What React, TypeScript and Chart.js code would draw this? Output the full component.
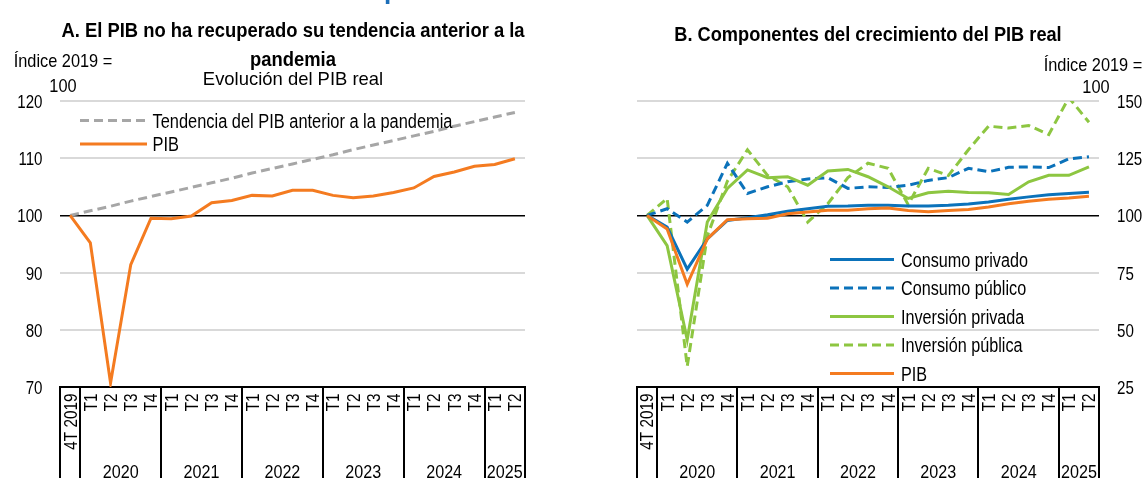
import React, { useEffect, useRef } from 'react';
import { Chart, registerables } from 'chart.js';

Chart.register(...registerables);

const FONT = "'Liberation Sans', Arial, sans-serif";

// ---- Data ----
const quarterLabels = [
  '4T 2019',
  'T1', 'T2', 'T3', 'T4',
  'T1', 'T2', 'T3', 'T4',
  'T1', 'T2', 'T3', 'T4',
  'T1', 'T2', 'T3', 'T4',
  'T1', 'T2', 'T3', 'T4',
  'T1', 'T2',
];
const quarterYears = [
  '',
  '2020', '2020', '2020', '2020',
  '2021', '2021', '2021', '2021',
  '2022', '2022', '2022', '2022',
  '2023', '2023', '2023', '2023',
  '2024', '2024', '2024', '2024',
  '2025', '2025',
];

// Panel A
const trendA = [100, 100.8, 101.6, 102.5, 103.3, 104.1, 104.9, 105.7, 106.5, 107.4, 108.2, 109.0, 109.8, 110.6, 111.5, 112.3, 113.1, 113.9, 114.7, 115.6, 116.4, 117.2, 118.0];
const pibA = [100, 95.2, 70.7, 91.4, 99.5, 99.4, 99.9, 102.2, 102.6, 103.5, 103.4, 104.4, 104.4, 103.5, 103.1, 103.4, 104.0, 104.8, 106.8, 107.6, 108.6, 108.9, 109.9];
const ticksA = [70, 120, 10];

// Panel B
const consumoPrivado = [100, 94.9, 76.5, 89.7, 97.8, 99.0, 100.3, 101.8, 102.9, 104.0, 104.1, 104.4, 104.4, 104.1, 104.1, 104.4, 105.0, 105.9, 107.1, 108.1, 109.0, 109.6, 110.1];
const consumoPublico = [100, 102.9, 97.1, 104.4, 122.8, 109.6, 112.5, 114.7, 115.9, 116.5, 111.8, 112.5, 112.2, 113.2, 115.3, 116.5, 120.6, 119.1, 121.0, 121.2, 120.9, 124.7, 125.6];
const inversionPrivada = [100, 86.8, 45.6, 97.1, 111.8, 119.9, 116.5, 116.9, 113.2, 119.4, 120.1, 116.9, 112.5, 107.4, 109.9, 110.6, 110.0, 109.9, 109.1, 114.7, 117.5, 117.5, 121.2];
const inversionPublica = [100, 107.4, 34.0, 91.0, 115.0, 128.7, 117.5, 112.5, 97.1, 105.1, 116.5, 122.8, 120.6, 104.7, 120.6, 117.4, 128.7, 139.0, 138.2, 139.3, 135.3, 151.5, 140.7];
const pibB = [100, 94.1, 69.9, 89.7, 98.1, 98.5, 98.8, 100.7, 101.5, 102.2, 102.2, 102.9, 103.2, 102.1, 101.6, 102.1, 102.6, 103.7, 105.1, 106.2, 107.1, 107.6, 108.4];
const ticksB = [25, 150, 25];

const COLORS = {
  blue: '#0B72BA',
  green: '#8DC641',
  orange: '#F47B20',
  grey: '#A6A6A6',
  grid: '#D9D9D9',
};

// Draw text with horizontal condensing (narrow look)
function drawText(ctx: any, text: string, x: number, y: number, o: any) {
  ctx.save();
  ctx.font = `${o.bold ? 'bold ' : ''}${o.size}px ${FONT}`;
  ctx.fillStyle = o.color || '#000';
  ctx.textAlign = o.align || 'center';
  ctx.textBaseline = o.baseline || 'alphabetic';
  ctx.translate(x, y);
  if (o.rotate) ctx.rotate(o.rotate);
  ctx.scale(o.sx || 1, 1);
  ctx.fillText(text, 0, o.dy || 0);
  ctx.restore();
}

// ---- Plugins ----
const textPlugin = {
  id: 'staticTexts',
  afterDraw(chart: any, _args: any, opts: any) {
    (opts.items || []).forEach((it: any) => drawText(chart.ctx, it.text, it.x, it.y, it));
  },
};

const legendPlugin = {
  id: 'inlineLegend',
  afterDatasetsDraw(chart: any, _args: any, opts: any) {
    const ctx = chart.ctx;
    chart.data.datasets.forEach((ds: any, row: number) => {
      const y = opts.y + row * opts.spacing;
      ctx.save();
      ctx.strokeStyle = ds.borderColor;
      ctx.lineWidth = ds.borderWidth;
      ctx.setLineDash(ds.borderDash || []);
      ctx.lineCap = 'butt';
      ctx.beginPath();
      ctx.moveTo(opts.x, y);
      ctx.lineTo(opts.x + opts.sampleWidth, y);
      ctx.stroke();
      ctx.restore();
      drawText(ctx, ds.label, opts.x + opts.sampleWidth + opts.gap, y + opts.size * 0.358, {
        size: opts.size, sx: opts.sx, align: 'left',
      });
    });
  },
};

const tickLabelPlugin = {
  id: 'tickLabels',
  afterDraw(chart: any, _args: any, opts: any) {
    const ctx = chart.ctx;
    const xs = chart.scales.x;
    const ys = chart.scales.y;
    const { left, right, bottom } = chart.chartArea;
    // y tick labels
    ys.ticks.forEach((t: any) => {
      const py = ys.getPixelForValue(t.value);
      if (opts.yPos === 'left') {
        drawText(ctx, String(t.value), left - opts.yPad, py + opts.yDy, { size: opts.ySize, sx: opts.ySx, align: 'right' });
      } else {
        drawText(ctx, String(t.value), right + opts.yPad, py + opts.yDy, { size: opts.ySize, sx: opts.ySx, align: 'left' });
      }
    });
    // x tick labels (rotated, reading bottom to top)
    chart.data.labels.forEach((lab: string, i: number) => {
      const px = xs.getPixelForValue(i);
      drawText(ctx, lab, px, bottom + opts.xPad, {
        size: opts.xSize, sx: opts.xSx, align: 'right', rotate: -Math.PI / 2, dy: opts.xSize * 0.358,
      });
    });
  },
};

const yearAxisPlugin = {
  id: 'yearAxis',
  afterDraw(chart: any, _args: any, opts: any) {
    const xs = chart.scales.x;
    const { left, right, bottom } = chart.chartArea;
    const ctx = chart.ctx;
    const H = chart.height;
    const years: string[] = opts.years;
    const bounds: number[] = [left];
    const groups: any[] = [];
    let start = 0;
    for (let i = 1; i <= years.length; i++) {
      if (i === years.length || years[i] !== years[i - 1]) {
        const endPx = i === years.length ? right : (xs.getPixelForValue(i - 1) + xs.getPixelForValue(i)) / 2;
        groups.push({ label: years[start], from: bounds[bounds.length - 1], to: endPx });
        bounds.push(endPx);
        start = i;
      }
    }
    ctx.save();
    ctx.strokeStyle = '#000';
    ctx.lineWidth = 2;
    bounds.forEach((b) => {
      const bx = Math.round(b);
      ctx.beginPath();
      ctx.moveTo(bx, bottom);
      ctx.lineTo(bx, H);
      ctx.stroke();
    });
    ctx.restore();
    groups.forEach((g) => {
      if (g.label) drawText(ctx, g.label, (g.from + g.to) / 2, opts.labelY, { size: opts.size, sx: opts.sx });
    });
  },
};

function makeScales(yPos: 'left' | 'right', ticks: number[], yWidth: number) {
  return {
    x: {
      type: 'category',
      offset: true,
      ticks: { display: false, autoSkip: false },
      grid: { display: false, drawTicks: false },
      border: { display: true, color: '#000', width: 2 },
      afterFit: (s: any) => { s.height = 91; },
    },
    y: {
      position: yPos,
      min: ticks[0],
      max: ticks[1],
      ticks: { display: false, stepSize: ticks[2] },
      grid: {
        drawTicks: false,
        color: (c: any) => {
          const v = c.tick && c.tick.value;
          if (v === 100) return '#000';
          if (v === ticks[0]) return 'rgba(0,0,0,0)';
          return COLORS.grid;
        },
        lineWidth: (c: any) => (c.tick && c.tick.value === 100 ? 1.5 : 2),
      },
      border: { display: false },
      afterFit: (s: any) => { s.width = yWidth; },
    },
  };
}

function lineDs(label: string, data: number[], color: string, dashed: boolean, order: number) {
  return {
    label,
    data,
    borderColor: color,
    backgroundColor: color,
    borderWidth: 3,
    borderDash: dashed ? [9, 5] : [],
    pointRadius: 0,
    tension: 0,
    fill: false,
    order,
  };
}

const commonTicks = { xPad: 6.5, xSize: 18, xSx: 0.85, ySize: 18, ySx: 0.84, yDy: 7 };

function configA(): any {
  return {
    type: 'line',
    data: {
      labels: quarterLabels,
      datasets: [
        lineDs('Tendencia del PIB anterior a la pandemia', trendA, COLORS.grey, true, 1),
        lineDs('PIB', pibA, COLORS.orange, false, 0),
      ],
    },
    plugins: [textPlugin, legendPlugin, yearAxisPlugin, tickLabelPlugin],
    options: {
      responsive: false,
      animation: false,
      devicePixelRatio: 1,
      layout: { padding: { left: 0, right: 35, top: 101, bottom: 0 } },
      scales: makeScales('left', ticksA, 60),
      plugins: {
        legend: { display: false },
        tooltip: { enabled: false },
        title: { display: false },
        staticTexts: {
          items: [
            { text: 'A. El PIB no ha recuperado su tendencia anterior a la', x: 293, y: 37, size: 20, bold: true, sx: 0.92 },
            { text: 'pandemia', x: 293, y: 66, size: 20, bold: true, sx: 0.92 },
            { text: 'Evolución del PIB real', x: 293, y: 85, size: 19, sx: 0.97 },
            { text: 'Índice 2019 =', x: 63, y: 67, size: 19, sx: 0.86 },
            { text: '100', x: 63, y: 91.5, size: 19, sx: 0.86 },
            { text: 'p', x: 384, y: -1, size: 26, bold: true, color: '#1C6EB8', align: 'left' },
          ],
        },
        inlineLegend: { x: 80, y: 120.5, spacing: 23.5, sampleWidth: 67, gap: 5.5, size: 20, sx: 0.82 },
        yearAxis: { years: quarterYears, labelY: 478, size: 19, sx: 0.85 },
        tickLabels: { ...commonTicks, yPos: 'left', yPad: 17.5 },
      },
    },
  };
}

function configB(): any {
  return {
    type: 'line',
    data: {
      labels: quarterLabels,
      datasets: [
        lineDs('Consumo privado', consumoPrivado, COLORS.blue, false, 2),
        lineDs('Consumo público', consumoPublico, COLORS.blue, true, 4),
        lineDs('Inversión privada', inversionPrivada, COLORS.green, false, 3),
        lineDs('Inversión pública', inversionPublica, COLORS.green, true, 5),
        lineDs('PIB', pibB, COLORS.orange, false, 1),
      ],
    },
    plugins: [textPlugin, legendPlugin, yearAxisPlugin, tickLabelPlugin],
    options: {
      responsive: false,
      animation: false,
      devicePixelRatio: 1,
      layout: { padding: { left: 77, right: 0, top: 101, bottom: 0 } },
      scales: makeScales('right', ticksB, 48),
      plugins: {
        legend: { display: false },
        tooltip: { enabled: false },
        title: { display: false },
        staticTexts: {
          items: [
            { text: 'B. Componentes del crecimiento del PIB real', x: 308, y: 40.5, size: 20, bold: true, sx: 0.91 },
            { text: 'Índice 2019 =', x: 533, y: 70.5, size: 19, sx: 0.86 },
            { text: '100', x: 536, y: 93.3, size: 19, sx: 0.86 },
          ],
        },
        inlineLegend: { x: 270, y: 259.5, spacing: 28.5, sampleWidth: 64, gap: 7, size: 20, sx: 0.81 },
        yearAxis: { years: quarterYears, labelY: 478, size: 19, sx: 0.85 },
        tickLabels: { ...commonTicks, yPos: 'right', yPad: 18 },
      },
    },
  };
}

function ChartCanvas({ makeConfig, left, width, height }: any) {
  const ref = useRef<HTMLCanvasElement | null>(null);
  useEffect(() => {
    if (!ref.current) return;
    const chart = new Chart(ref.current, makeConfig());
    return () => chart.destroy();
  }, [makeConfig]);
  return (
    <canvas
      ref={ref}
      width={width}
      height={height}
      style={{ position: 'absolute', left, top: 0, width, height, display: 'block' }}
    />
  );
}

export default function App() {
  return (
    <div style={{ position: 'fixed', left: 0, top: 0, width: 1147, height: 478, background: '#fff', overflow: 'hidden' }}>
      <ChartCanvas makeConfig={configA} left={0} width={560} height={478} />
      <ChartCanvas makeConfig={configB} left={560} width={587} height={478} />
    </div>
  );
}
